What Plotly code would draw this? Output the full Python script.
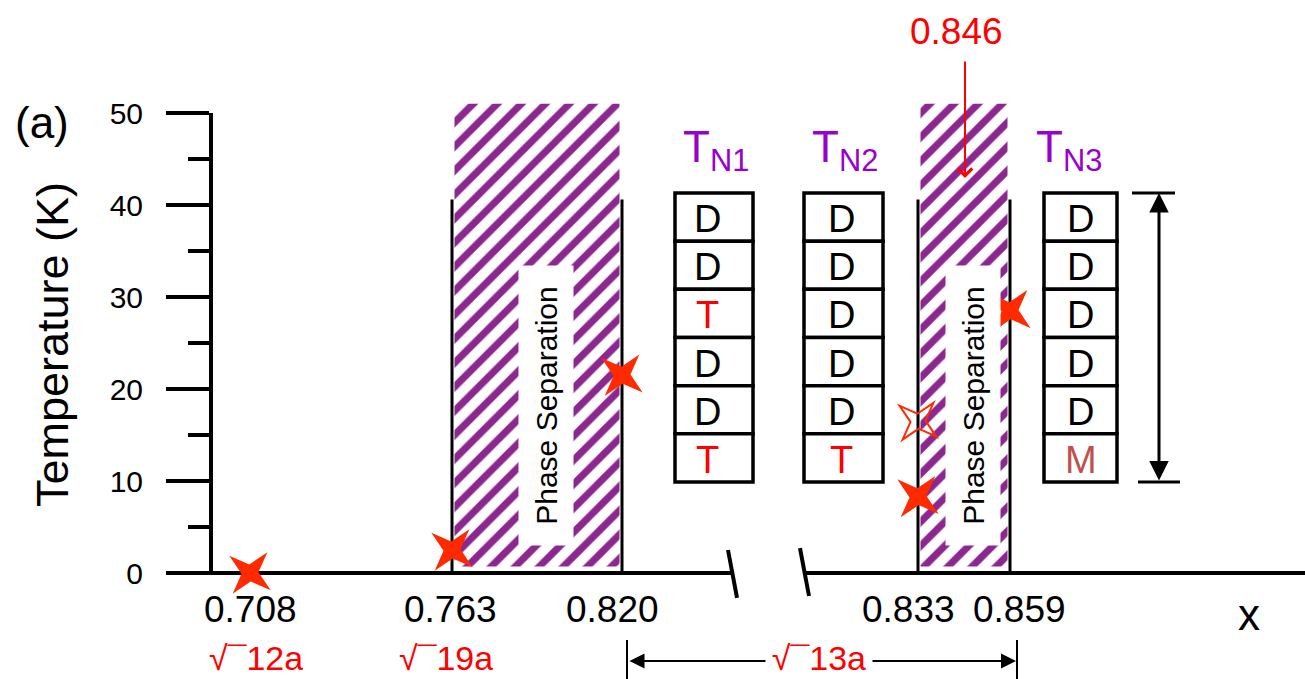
import numpy as np
import plotly.graph_objects as go

# ---------------------------------------------------------------- data
# Compositions marked on the (broken, schematic) x axis
X_TICKS = [0.708, 0.763, 0.820, 0.833, 0.859]
X_TICK_TEXT = ["0.708", "0.763", "0.820", "0.833", "0.859"]

# Supercell labels under the single compositions
CELL_X = [0.708, 0.763]
CELL_TEXT = ["√¯12a", "√¯19a"]
# Composition range of the √13a superstructure
CELL13_RANGE = [0.820, 0.859]
CELL13_TEXT = "√¯13a"

# Magnetic transitions (filled stars) and a weak anomaly (open star)
TRANS_X = [0.708, 0.763, 0.820, 0.833, 0.859]
TRANS_T = [0.0, 2.5, 21.5, 8.3, 28.5]
WEAK_X = [0.833]
WEAK_T = [16.5]

# Phase-separation windows
PS_LO = [0.763, 0.833]
PS_HI = [0.820, 0.859]
PS_T = [0.7, 51.0]
BOUNDARY_X = [0.763, 0.820, 0.833, 0.859]
BOUNDARY_TOP = 40.6

# Special composition marked with an arrow
MARK_X = 0.846
MARK_TEXT = "0.846"

# Layer stacks for the three Néel temperatures
STACK_NAMES = ["T<sub>N1</sub>", "T<sub>N2</sub>", "T<sub>N3</sub>"]
STACK_LAYERS = [
    ["D", "D", "T", "D", "D", "T"],
    ["D", "D", "D", "D", "D", "T"],
    ["D", "D", "D", "D", "D", "M"],
]
STACK_T = [9.9, 41.3]

Y_TICKS = [0, 10, 20, 30, 40, 50]

# ---------------------------------------------------------------- layout / style
FIG_W, FIG_H = 1305, 679
Y0_PX, PX_PER_K = 573, 9.2           # pixel row of T = 0, pixels per kelvin
FONT = "Arial, Liberation Sans, sans-serif"
RED = "#ff0000"
STAR_RED = "#ff2a00"
PURPLE_HATCH = "#8c278f"
PURPLE_TEXT = "#9900cc"
LETTER_COLOR = {"D": "black", "T": RED, "M": "#c0504d"}

# schematic placement of the marked compositions along the broken axis
X_TICK_POS = [250, 452, 622, 918, 1010]
X_LABEL_SHIFT = [0, -2, -10, -10, 9]
STACK_POS = [714, 843.5, 1080.5]
STACK_W = [78, 79, 73]
STACK_LETTER_SHIFT = [-7, -2, 0]
STACK_TITLE_POS = [716, 845, 1069]
BRACKET_POS = 1159
AXIS_SEGMENTS = [(168, 733), (806, FIG_W)]
BREAK_MARKS = [((728, 2.5), (737, -2.7)), ((800, 2.7), (809, -2.5))]


def pos(x):
    """Map a composition onto the schematic axis."""
    return float(np.interp(x, X_TICKS, X_TICK_POS))


def px_to_t(py):
    return (Y0_PX - py) / PX_PER_K


def star_path(R=27.0, r=8.5, rot=50.0):
    """Four-pointed star glyph, in pixels around its anchor."""
    pts = []
    for k in range(8):
        ang = np.radians(rot + 45.0 * k)
        rad = R if k % 2 == 0 else r
        pts.append((rad * np.cos(ang), rad * np.sin(ang)))
    return "M" + "L".join(f"{x:.2f},{y:.2f}" for x, y in pts) + "Z"


y_lo, y_hi = px_to_t(FIG_H), px_to_t(0)

fig = go.Figure()

# hatched phase-separation windows
inset = 2.5
lo = np.array([pos(v) for v in PS_LO]) + inset
hi = np.array([pos(v) for v in PS_HI]) - inset
fig.add_trace(go.Bar(
    x=(lo + hi) / 2, width=hi - lo,
    base=[PS_T[0]] * len(lo), y=[PS_T[1] - PS_T[0]] * len(lo),
    marker=dict(color="white", line=dict(width=0),
                pattern=dict(shape="/", fgcolor=PURPLE_HATCH, bgcolor="white",
                             size=17, solidity=0.42, fillmode="replace")),
    hoverinfo="skip",
))
# carrier for the temperature axis
fig.add_trace(go.Scatter(x=[None], y=[None], xaxis="x2", yaxis="y2",
                         hoverinfo="skip"))

shapes = []
line_k = dict(color="black", width=4)

# broken composition axis
for x0, x1 in AXIS_SEGMENTS:
    shapes.append(dict(type="line", x0=x0, x1=x1, y0=0, y1=0, line=line_k))
for (xa, ya), (xb, yb) in BREAK_MARKS:
    shapes.append(dict(type="line", x0=xa, y0=ya, x1=xb, y1=yb, line=line_k))

# phase boundaries
for v in BOUNDARY_X:
    shapes.append(dict(type="line", x0=pos(v), x1=pos(v), y0=0, y1=BOUNDARY_TOP,
                       line=dict(color="black", width=3)))

annotations = []

# layer stacks
for cx, w, layers, dx in zip(STACK_POS, STACK_W, STACK_LAYERS, STACK_LETTER_SHIFT):
    h = (STACK_T[1] - STACK_T[0]) / len(layers)
    for i, letter in enumerate(layers):
        top = STACK_T[1] - i * h
        bot = top - h
        shapes.append(dict(type="rect", x0=cx - w / 2, x1=cx + w / 2, y0=bot, y1=top,
                           line=dict(color="black", width=3.5), fillcolor="white"))
        annotations.append(dict(x=cx, y=(top + bot) / 2, text=letter, showarrow=False,
                                xshift=dx, yshift=-2,
                                font=dict(family=FONT, size=38,
                                          color=LETTER_COLOR[letter])))
for tx, name in zip(STACK_TITLE_POS, STACK_NAMES):
    annotations.append(dict(x=tx, y=px_to_t(150), text=name, showarrow=False,
                            font=dict(family=FONT, size=44, color=PURPLE_TEXT)))

# height bracket beside the third stack
shapes.append(dict(type="line", x0=BRACKET_POS - 27, x1=BRACKET_POS + 16,
                   y0=STACK_T[1], y1=STACK_T[1], line=dict(color="black", width=3)))
shapes.append(dict(type="line", x0=BRACKET_POS - 21, x1=BRACKET_POS + 21,
                   y0=STACK_T[0], y1=STACK_T[0], line=dict(color="black", width=3)))
annotations.append(dict(x=BRACKET_POS, y=STACK_T[1], ax=BRACKET_POS, ay=STACK_T[0],
                        axref="x", ayref="y", text="", showarrow=True,
                        arrowside="end+start", arrowhead=2, startarrowhead=2,
                        arrowsize=1.3, startarrowsize=1.3, arrowwidth=3,
                        arrowcolor="black", standoff=0, startstandoff=0))

# phase separation labels
for a, b in zip(PS_LO, PS_HI):
    annotations.append(dict(x=(pos(a) + pos(b)) / 2, xshift=9, y=px_to_t(406),
                            text="Phase Separation", textangle=-90, showarrow=False,
                            width=277, height=52, bgcolor="white",
                            font=dict(family=FONT, size=30, color="black")))

# transition stars, anchored at their (x, T) values
for v, t in zip(TRANS_X, TRANS_T):
    shapes.append(dict(type="path", xsizemode="pixel", ysizemode="pixel",
                       xanchor=pos(v), yanchor=t, path=star_path(), layer="above",
                       fillcolor=STAR_RED, line=dict(width=0)))
for v, t in zip(WEAK_X, WEAK_T):
    shapes.append(dict(type="path", xsizemode="pixel", ysizemode="pixel",
                       xanchor=pos(v), yanchor=t, path=star_path(24, 7.5),
                       layer="above", fillcolor="rgba(255,255,255,0)",
                       line=dict(width=2, color=STAR_RED)))

# composition tick labels
for v, t, dx in zip(X_TICKS, X_TICK_TEXT, X_LABEL_SHIFT):
    annotations.append(dict(x=pos(v), xshift=dx, y=px_to_t(609), text=t,
                            showarrow=False,
                            font=dict(family=FONT, size=37, color="black")))
for v, t, dx in zip(CELL_X, CELL_TEXT, [6, -6]):
    annotations.append(dict(x=pos(v), xshift=dx, y=px_to_t(658), text=t,
                            showarrow=False, height=38,
                            font=dict(family=FONT, size=34, color=RED)))

# √13a range bracket
b0, b1 = pos(CELL13_RANGE[0]) + 5, pos(CELL13_RANGE[1]) + 7
yb = px_to_t(661)
for bx in (b0, b1):
    shapes.append(dict(type="line", x0=bx, x1=bx, y0=px_to_t(640), y1=px_to_t(679),
                       line=dict(color="black", width=2)))
annotations.append(dict(x=b1, y=yb, ax=b0, ay=yb, axref="x", ayref="y", text="",
                        showarrow=True, arrowside="end+start", arrowhead=2,
                        startarrowhead=2, arrowsize=1.5, startarrowsize=1.5,
                        arrowwidth=2, arrowcolor="black", standoff=1, startstandoff=1))
annotations.append(dict(x=(b0 + b1) / 2 - 3, y=px_to_t(658), text=CELL13_TEXT,
                        showarrow=False, bgcolor="white", borderpad=1, height=36,
                        width=104, font=dict(family=FONT, size=34, color=RED)))

# arrow to x = 0.846
annotations.append(dict(x=pos(MARK_X) + 1, y=px_to_t(178), ax=pos(MARK_X) + 1,
                        ay=px_to_t(60), axref="x", ayref="y", text="", showarrow=True,
                        arrowhead=4, arrowsize=1.4, arrowwidth=2, arrowcolor=RED,
                        standoff=0))
annotations.append(dict(x=pos(MARK_X), xshift=-8, y=px_to_t(31), text=MARK_TEXT,
                        showarrow=False, font=dict(family=FONT, size=37, color=RED)))

# axis titles and panel tag
annotations.append(dict(xref="paper", x=52 / FIG_W, xanchor="center",
                        y=px_to_t(345), yanchor="middle",
                        text="Temperature (K)", textangle=-90, showarrow=False,
                        font=dict(family=FONT, size=45, color="black")))
annotations.append(dict(xref="paper", x=42 / FIG_W, xanchor="center",
                        y=px_to_t(122), yanchor="middle", text="(a)",
                        showarrow=False, font=dict(family=FONT, size=44, color="black")))
annotations.append(dict(x=1249, y=px_to_t(614), text="x", showarrow=False,
                        font=dict(family=FONT, size=44, color="black")))

for s in shapes:
    s.setdefault("xref", "x")
    s.setdefault("yref", "y")
    s.setdefault("layer", "below")

d0 = (FIG_H - Y0_PX) / FIG_H
d1 = (FIG_H - Y0_PX + 50 * PX_PER_K) / FIG_H

fig.update_layout(
    width=FIG_W, height=FIG_H, autosize=False,
    margin=dict(l=0, r=0, t=0, b=0, pad=0, autoexpand=False),
    paper_bgcolor="white", plot_bgcolor="rgba(0,0,0,0)",
    showlegend=False, hovermode=False, barmode="overlay",
    xaxis=dict(domain=[0, 1], range=[0, FIG_W], visible=False, fixedrange=True,
               automargin=False),
    yaxis=dict(domain=[0, 1], range=[y_lo, y_hi], visible=False, fixedrange=True,
               automargin=False),
    xaxis2=dict(domain=[0, 1], range=[0, FIG_W], anchor="y2", visible=False,
                automargin=False),
    yaxis2=dict(
        domain=[d0, d1], range=[0, 50], anchor="free", position=211 / FIG_W,
        automargin=False,
        tickmode="array", tickvals=Y_TICKS, ticks="outside", ticklen=43,
        tickwidth=4, tickcolor="black", showline=True, linewidth=4,
        linecolor="black", showgrid=False, zeroline=False,
        tickfont=dict(family=FONT, size=30, color="black"), ticklabelstandoff=17,
        minor=dict(tickmode="linear", tick0=0, dtick=5, ticks="outside",
                   ticklen=21, tickwidth=4, tickcolor="black", showgrid=False),
    ),
    shapes=shapes,
    annotations=annotations,
)

fig.write_html("out.html")
